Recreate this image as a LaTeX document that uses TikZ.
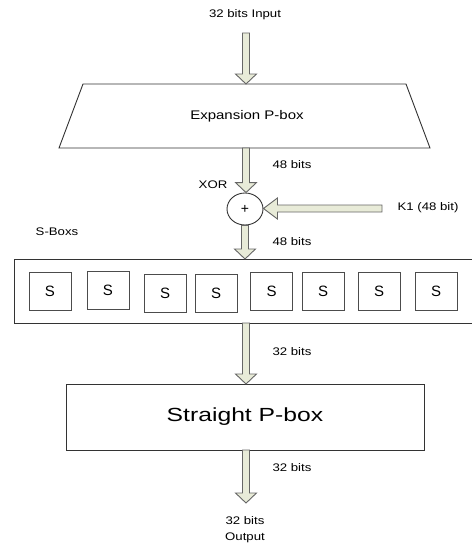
\documentclass[tikz,border=0pt]{standalone}
\usepackage{fontspec}
\setmainfont{Liberation Sans}
\newfontfamily\widesans[FakeStretch=1.2]{Liberation Sans}
\newfontfamily\widersans[FakeStretch=1.3]{Liberation Sans}
\usetikzlibrary{calc,shapes.geometric}

\tikzset{
  outline/.style={draw=black!80, line width=0.9pt},
  arrowfill/.style={draw=black!60, fill={rgb,255:red,232;green,235;blue,216}, line width=0.9pt, line join=miter},
  lbl/.style={font=\widesans\fontsize{11}{13}\selectfont, inner sep=0pt},
  sbox/.style={outline, draw=black!70, minimum width=42pt, minimum height=38pt, inner sep=0pt, font=\fontsize{15}{17}\selectfont},
}

% downward block arrow from the first point to the tip at the second
\newcommand{\downblock}[2]{%
  \path[arrowfill] let \p1=(#1), \p2=(#2) in
    (\x1-3.5pt,\y1) -- (\x1+3.5pt,\y1) -- (\x1+3.5pt,\y2+10pt) -- (\x1+10.5pt,\y2+10pt)
    -- (\x1,\y2) -- (\x1-10.5pt,\y2+10pt) -- (\x1-3.5pt,\y2+10pt) -- cycle;}
% leftward block arrow from the first point to the tip at the second
\newcommand{\leftblock}[2]{%
  \path[arrowfill] let \p1=(#1), \p2=(#2) in
    (\x1,\y1+3.5pt) -- (\x1,\y1-3.5pt) -- (\x2+14pt,\y1-3.5pt) -- (\x2+14pt,\y1-10.5pt)
    -- (\x2,\y1) -- (\x2+14pt,\y1+10.5pt) -- (\x2+14pt,\y1+3.5pt) -- cycle;}

\begin{document}
\begin{tikzpicture}[x=1pt,y=-1pt]
\useasboundingbox (0,0) rectangle (471,543);

% input label
\node[lbl] (in) at (245,15) {32 bits Input};
\coordinate (inA) at (246,33);

% expansion P-box
\coordinate (e1) at (83,84);
\coordinate (e2) at (406,84);
\coordinate (e3) at (430,148);
\coordinate (e4) at (59,148);
\draw[outline] (e1) -- (e2) -- (e3) -- (e4) -- cycle;
\node[font=\widesans\fontsize{12.5}{15}\selectfont, inner sep=0pt] (exp) at (247,116) {Expansion P-box};
\coordinate (expT) at (246,84);
\coordinate (expB) at (246,148);

% XOR with the round key
\node[ellipse, outline, minimum width=36pt, minimum height=32pt, inner sep=0pt,
      font=\fontsize{14}{16}\selectfont] (xor) at (245,209) {+};
\node[lbl] (xorlbl) at (213,185) {XOR};
\node[lbl] (key) at (428,208) {K1 (48 bit)};
\coordinate (keyA) at (382,208.5);

% S-box row
\draw[outline] (14,259) rectangle (480,323);
\coordinate (sT) at (246,259);
\coordinate (sB) at (246,323);
\node[lbl] (sblbl) at (57,232) {S-Boxs};
\node[sbox] (s1) at (50,291) {S};
\node[sbox] (s2) at (108,290) {S};
\node[sbox] (s3) at (165,293) {S};
\node[sbox] (s4) at (216,293) {S};
\node[sbox] (s5) at (271.5,291.5) {S};
\node[sbox] (s6) at (323,291.5) {S};
\node[sbox] (s7) at (379,291.5) {S};
\node[sbox] (s8) at (436,291.5) {S};

% straight P-box
\node[outline, minimum width=358pt, minimum height=66pt, inner sep=0pt,
      font=\widersans\fontsize{19}{22}\selectfont] (sp) at (245,417) {Straight P-box};
\coordinate (spT) at (246,384);
\coordinate (spB) at (246,450);

% output label
\node[lbl, align=center] (out) at (245,529.5) {32 bits\\[3pt]Output};
\coordinate (outA) at (246,503);

% bit widths along the data path
\node[lbl] at (292,165) {48 bits};
\node[lbl] at (292,242) {48 bits};
\node[lbl] at (292,352) {32 bits};
\node[lbl] at (292,468) {32 bits};

% block arrows
\downblock{inA}{expT}
\downblock{expB}{xor.north}
\downblock{xor.south}{sT}
\downblock{sB}{spT}
\downblock{spB}{outA}
\leftblock{keyA}{xor.east}
\end{tikzpicture}
\end{document}
